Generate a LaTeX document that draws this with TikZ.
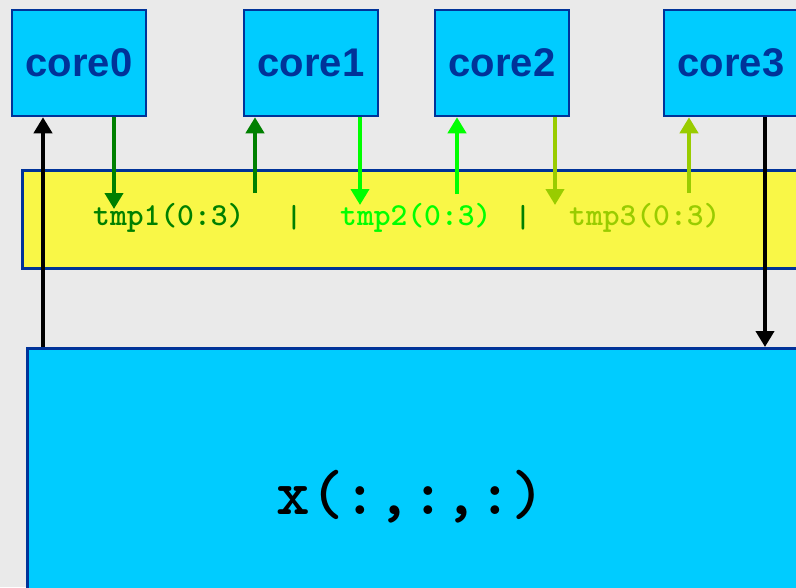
\documentclass[tikz,border=0pt]{standalone}
\usepackage{fontspec}
\setmainfont{Liberation Sans}
\usetikzlibrary{arrows.meta}
\definecolor{bgray}{HTML}{EAEAEA}
\definecolor{cyanfill}{HTML}{00CCFF}
\definecolor{navy}{HTML}{003399}
\definecolor{bandyellow}{HTML}{F9F747}
\definecolor{dgreen}{HTML}{008000}
\definecolor{bgreen}{HTML}{00FF00}
\definecolor{ygreen}{HTML}{99CC00}
\tikzset{
  corebox/.style={draw=navy, line width=2.5pt, fill=cyanfill, minimum width=134, minimum height=106,
    inner sep=0pt, text=navy, font=\fontsize{40}{40}\selectfont\bfseries},
  panel/.style={draw=navy, line width=2.5pt, anchor=north west, inner sep=0pt},
  flow/.style={line width=4.5pt, -{Triangle[length=16pt,width=18pt]}},
  codetxt/.style={font=\ttfamily\bfseries\fontsize{32}{32}\selectfont\addfontfeature{FakeBold=1.2}, inner sep=0pt}
}
\begin{document}
\begin{tikzpicture}[x=1pt,y=-1pt]
\useasboundingbox (0,0) rectangle (796,587);
\begin{scope}
\clip (0,0) rectangle (796,587);
\fill[bgray] (0,0) rectangle (796,587);

% processor cores
\node[corebox] (core0) at (79,63) {\raisebox{-2pt}{core0}};
\node[corebox] (core1) at (311,63) {\raisebox{-2pt}{core1}};
\node[corebox] (core2) at (502,63) {\raisebox{-2pt}{core2}};
\node[corebox] (core3) at (731,63) {\raisebox{-2pt}{core3}};

% temporary buffer band
\node[panel, fill=bandyellow, minimum width=800, minimum height=98] (band) at (21,169) {};
\node[codetxt, text=dgreen, anchor=west] (tmp1) at (93,218) {tmp1(0:3)};
\node[codetxt, text=dgreen] (sep1) at (294,218) {|};
\node[codetxt, text=bgreen, anchor=west] (tmp2) at (340,218) {tmp2(0:3)};
\node[codetxt, text=dgreen] (sep2) at (523,218) {|};
\node[codetxt, text=ygreen, anchor=west] (tmp3) at (569,218) {tmp3(0:3)};

% shared array
\node[panel, fill=cyanfill, minimum width=800, minimum height=260] (xbox) at (26,347) {};
\node[font=\ttfamily\bfseries\fontsize{64}{64}\selectfont\addfontfeature{FakeBold=1.5}, inner sep=0pt] (xarr) at (411,497) {x(:,:,:)};

% free ends of the buffer transfers
\coordinate (d1) at (114,209);
\coordinate (u1) at (255,193);
\coordinate (d2) at (360,205);
\coordinate (u2) at (457,194);
\coordinate (d3) at (555,205);
\coordinate (u3) at (689,193);
\coordinate (xin) at (43,347);
\coordinate (xout) at (765,347);

\draw[flow, dgreen] (d1 |- core0.south) -- (d1);
\draw[flow, dgreen] (u1) -- (u1 |- core1.south);
\draw[flow, bgreen] (d2 |- core1.south) -- (d2);
\draw[flow, bgreen] (u2) -- (u2 |- core2.south);
\draw[flow, ygreen] (d3 |- core2.south) -- (d3);
\draw[flow, ygreen] (u3) -- (u3 |- core3.south);

\draw[flow, black, line width=4pt] (xin) -- (xin |- core0.south);
\draw[flow, black, line width=4pt] (xout |- core3.south) -- (xout);
\end{scope}
\end{tikzpicture}
\end{document}
